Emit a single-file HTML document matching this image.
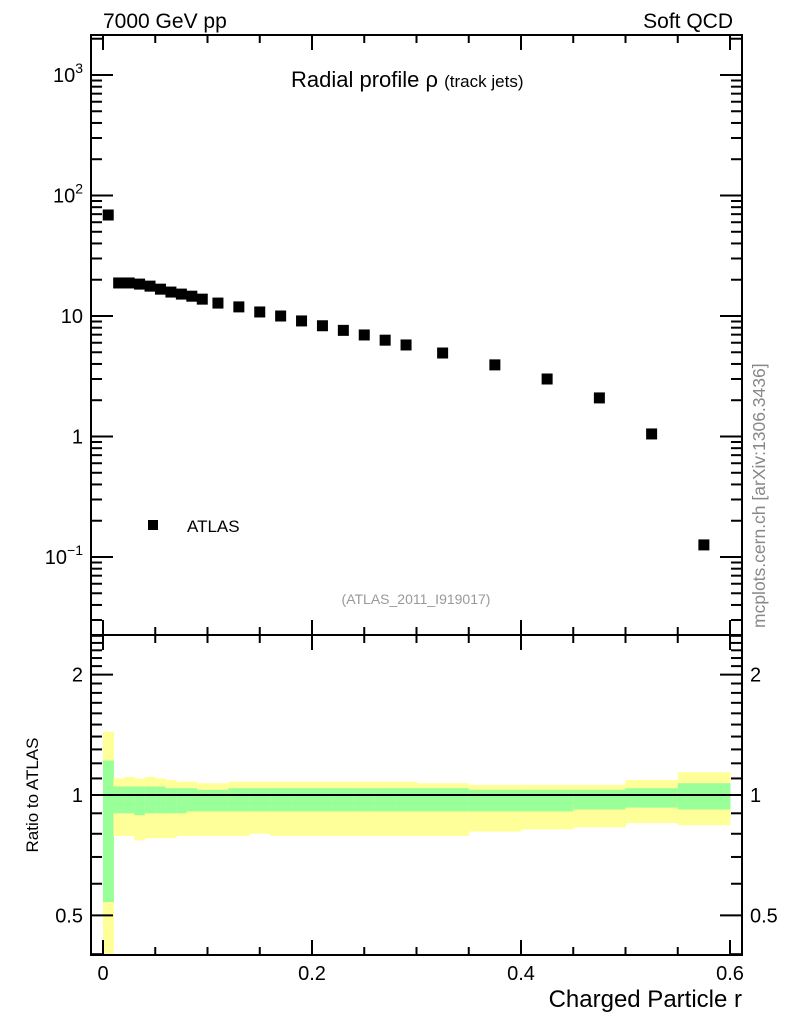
<!DOCTYPE html>
<html><head><meta charset="utf-8"><style>
body{margin:0;background:#fff}
svg{display:block;font-family:"Liberation Sans",sans-serif}
</style></head><body>
<svg id="c" width="786" height="1024" xmlns="http://www.w3.org/2000/svg">
<g id="bands"></g>
<g id="axes" stroke="#000" fill="none" stroke-width="2"></g>
<g id="marks"></g>
<g id="labels" font-size="20" fill="#000"></g>
<text x="103" y="28" font-size="21">7000 GeV pp</text>
<text x="733" y="28" font-size="21" text-anchor="end">Soft QCD</text>
<text x="291" y="87" font-size="22">Radial profile ρ <tspan font-size="17">(track jets)</tspan></text>
<text x="416" y="604" font-size="14" fill="#999" text-anchor="middle">(ATLAS_2011_I919017)</text>
<rect x="148" y="520" width="10" height="10" fill="#000"/>
<text x="187" y="532" font-size="17">ATLAS</text>
<text transform="translate(765,628) rotate(-90)" font-size="17.5" fill="#888">mcplots.cern.ch [arXiv:1306.3436]</text>
<text transform="translate(38,795) rotate(-90)" font-size="17" text-anchor="middle">Ratio to ATLAS</text>
<text x="742" y="1007" font-size="24" text-anchor="end">Charged Particle r</text>
</svg>
<script>
const binEdges=[0,0.01,0.02,0.03,0.04,0.05,0.06,0.07,0.08,0.09,0.1,0.12,0.14,0.16,0.18,0.2,0.22,0.24,0.26,0.28,0.3,0.35,0.4,0.45,0.5,0.55,0.6];
const rhoValues=[68.9,18.8,18.8,18.4,17.7,16.7,15.8,15.2,14.6,13.8,12.8,11.9,10.8,10.0,9.1,8.3,7.6,6.96,6.3,5.75,4.93,3.93,3.0,2.09,1.05,0.126];
const yellowHi=[1.44,1.10,1.11,1.10,1.11,1.10,1.09,1.08,1.08,1.07,1.07,1.08,1.08,1.08,1.08,1.08,1.08,1.08,1.08,1.08,1.07,1.06,1.06,1.06,1.09,1.14];
const greenHi=[1.22,1.05,1.05,1.05,1.05,1.05,1.04,1.04,1.04,1.03,1.03,1.04,1.04,1.04,1.04,1.04,1.04,1.04,1.04,1.04,1.04,1.03,1.03,1.03,1.04,1.07];
const greenLo=[0.54,0.90,0.90,0.89,0.90,0.90,0.90,0.90,0.91,0.91,0.91,0.91,0.91,0.91,0.91,0.91,0.91,0.91,0.91,0.91,0.91,0.91,0.91,0.92,0.93,0.92];
const yellowLo=[0.30,0.79,0.79,0.77,0.78,0.78,0.78,0.79,0.79,0.79,0.79,0.79,0.80,0.79,0.79,0.79,0.79,0.79,0.79,0.79,0.79,0.81,0.82,0.83,0.85,0.84];
const xTicks=[0,0.2,0.4,0.6];
const mainTicks=[0.1,1,10,100,1000];
const ratioTicks=[0.5,1,2];

const NS="http://www.w3.org/2000/svg";
const X=v=>103+v*1045;
const Y=v=>316-120.5*Math.log10(v/10);
const R=v=>795-400*Math.log10(v);
const L=91,RT=742,T=35,M=635,B=955;
function mk(tag,attrs,parent){const e=document.createElementNS(NS,tag);for(const k in attrs)e.setAttribute(k,attrs[k]);document.getElementById(parent).appendChild(e);return e;}

for(let i=0;i<rhoValues.length;i++){
  const x0=X(binEdges[i]),x1=X(binEdges[i+1]);
  const yb=Math.min(R(yellowLo[i]),B);
  const r1=mk('rect',{x:x0,y:R(yellowHi[i]),width:x1-x0+0.5,height:yb-R(yellowHi[i]),fill:'#ffff99'},'bands');
  
  
  const r2=mk('rect',{x:x0,y:R(greenHi[i]),width:x1-x0+0.5,height:R(greenLo[i])-R(greenHi[i]),fill:'#99ff99'},'bands');
  
  
}
mk('line',{x1:L,x2:RT,y1:R(1),y2:R(1),stroke:'#000','stroke-width':2},'bands');

for(let i=0;i<rhoValues.length;i++){
  const cx=X((binEdges[i]+binEdges[i+1])/2),cy=Y(rhoValues[i]);
  const m=mk('rect',{x:cx-5.5,y:cy-5.5,width:11,height:11,fill:'#000'},'marks');
  
  
}

mk('rect',{x:L,y:T,width:RT-L,height:M-T},'axes');
mk('rect',{x:L,y:M,width:RT-L,height:B-M},'axes');
for(let v=0;v<=0.6001;v+=0.05){
  const major=Math.abs(v*5-Math.round(v*5))<1e-6;
  const len=major?15:8,x=X(v);
  for(const [y0,d] of [[T,1],[M,-1],[M,1],[B,-1]]) mk('line',{x1:x,x2:x,y1:y0,y2:y0+d*len},'axes');
}
for(let e=-2;e<=3;e++){
  for(let k=1;k<10;k++){
    const v=k*Math.pow(10,e),y=Y(v);
    if(y<T||y>M)continue;
    const len=k==1?22:11;
    mk('line',{x1:L,x2:L+len,y1:y,y2:y},'axes');
    mk('line',{x1:RT,x2:RT-len,y1:y,y2:y},'axes');
  }
}
for(let v=0.4;v<=2.51;v+=0.1){
  const y=R(v);if(y<M||y>B)continue;
  const major=[0.5,1,2].some(t=>Math.abs(t-v)<1e-6);
  const len=major?22:11;
  mk('line',{x1:L,x2:L+len,y1:y,y2:y},'axes');
  mk('line',{x1:RT,x2:RT-len,y1:y,y2:y},'axes');
}
xTicks.forEach(v=>{const t=mk('text',{x:X(v),y:980,'text-anchor':'middle'},'labels');t.textContent=v===0?'0':String(v);

});
mainTicks.forEach(v=>{
  const t=mk('text',{x:83,y:Y(v)+7,'text-anchor':'end'},'labels');
  if(v===10)t.textContent='10';else if(v===1)t.textContent='1';
  else{const e=Math.round(Math.log10(v));t.innerHTML='10<tspan dy="-9" font-size="14">'+(e<0?'−'+(-e):e)+'</tspan>';}
  
  
});
ratioTicks.forEach(v=>{
  for(const [x,a] of [[83,'end'],[750,'start']]){
    const t=mk('text',{x:x,y:R(v)+7,'text-anchor':a},'labels');t.textContent=String(v);
    
    
  }
});
</script>
</body></html>
